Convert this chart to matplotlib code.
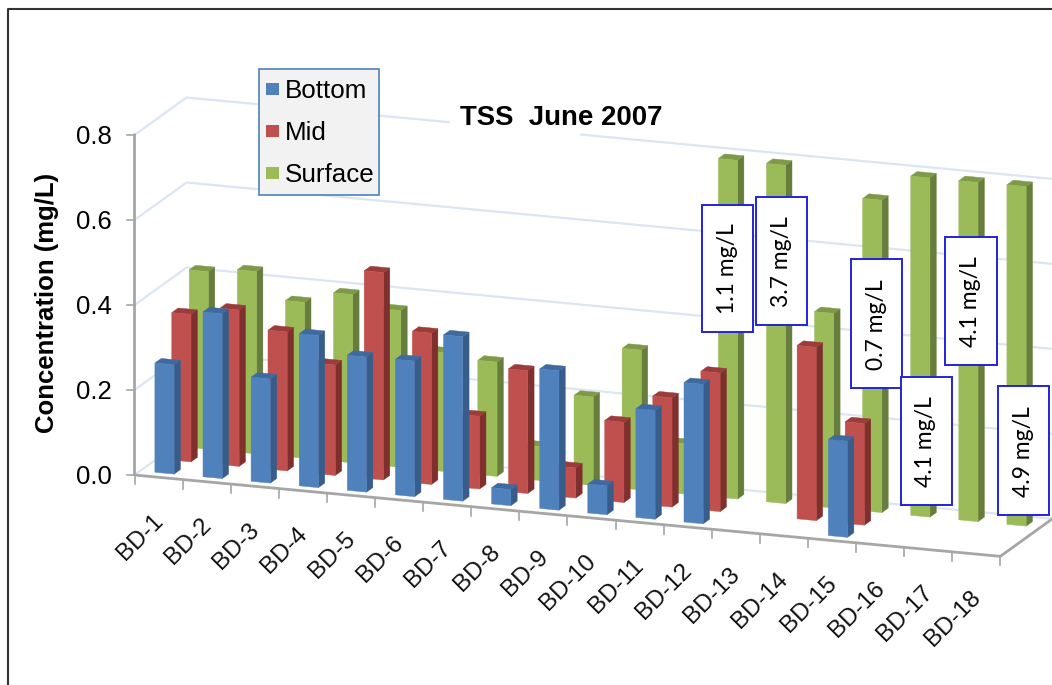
import matplotlib
matplotlib.use('Agg')
import matplotlib.pyplot as plt
from matplotlib.patches import Polygon, Rectangle

# Define the values (0.8 is where the tall bars hit the top of the axis)
categories = ['BD-%d' % i for i in range(1, 19)]
bottom = [0.257, 0.388, 0.245, 0.358, 0.318, 0.319, 0.387, 0.038, 0.328, 0.068, 0.256, 0.328,
          0, 0, 0.226, 0, 0, 0]
mid = [0.347, 0.368, 0.327, 0.26, 0.488, 0.356, 0.171, 0.289, 0.071, 0.189, 0.257, 0.326,
       0, 0.408, 0.239, 0, 0, 0]
surface = [0.418, 0.429, 0.367, 0.396, 0.369, 0.28, 0.269, 0.08, 0.208, 0.329, 0.118, 0.797,
           0.796, 0.458, 0.735, 0.798, 0.798, 0.799]
y_ticks = [0.0, 0.2, 0.4, 0.6, 0.8]
note_labels = ['1.1 mg/L', '3.7 mg/L', '0.7 mg/L', '4.1 mg/L', '4.1 mg/L', '4.9 mg/L']
note_boxes = [(701.5, 204.5, 51, 127), (756, 196.5, 51, 128), (851, 259, 51, 129),
              (900.5, 376.5, 51, 128.5), (944.5, 236.5, 52, 128.5), (998, 386, 51, 128.5)]

# Oblique projection of the Excel style 3D box, in pixels
origin_x, origin_y = 134.5, 475.0
cat_dx, cat_dy = 48.1, 4.52
depth_dx, depth_dy = 52.0, -37.5
value_scale = 425.0


def project(cat, depth, value):
    x = origin_x + cat * cat_dx + depth * depth_dx
    y = origin_y + cat * cat_dy + depth * depth_dy - value * value_scale
    return (x, y)


def draw_bar(ax, cat, depth, value, colors):
    # bar size inside one category / depth slot
    c0, c1 = cat + 0.305, cat + 0.705
    d0, d1 = depth, depth + 0.122
    front = [project(c0, d0, 0), project(c1, d0, 0), project(c1, d0, value), project(c0, d0, value)]
    side = [project(c1, d0, 0), project(c1, d1, 0), project(c1, d1, value), project(c1, d0, value)]
    top = [project(c0, d0, value), project(c1, d0, value), project(c1, d1, value), project(c0, d1, value)]
    for pts, col in zip([side, top, front], colors):
        ax.add_patch(Polygon(pts, closed=True, facecolor=col, edgecolor=col, linewidth=0.3, zorder=3))


# Create the figure and axes
fig = plt.figure(figsize=(10.52, 6.85), dpi=100)
ax = fig.add_axes([0, 0, 1, 1])
ax.set_xlim(0, 1052)
ax.set_ylim(685, 0)
ax.axis('off')
plt.rcParams['font.family'] = ['Liberation Sans', 'DejaVu Sans']

# Picture frame
ax.plot([7.5, 7.5, 1052], [685, 9, 9], color='#333333', linewidth=1.5, zorder=1)

# Gridlines on the side wall and back wall
grid_col = '#DCE6F2'
n = len(categories)
for v in y_ticks:
    pts = [project(0, 0, v), project(0, 1, v), project(n, 1, v)]
    ax.plot([p[0] for p in pts], [p[1] for p in pts], color=grid_col, linewidth=1.6, zorder=1)

# The title sits in a white gap of the top gridline
ax.add_patch(Rectangle((450, 100), 130, 37, facecolor='white', edgecolor='none', zorder=1.5))

# Axis lines and ticks
axis_col = '#A6A6A6'
pts = [project(0, 0, 0.8), project(0, 0, 0), project(n, 0, 0), project(n, 1, 0)]
ax.plot([p[0] for p in pts], [p[1] for p in pts], color=axis_col, linewidth=2.0, zorder=2)
for v in y_ticks:
    x, y = project(0, 0, v)
    ax.plot([x - 8, x], [y, y], color=axis_col, linewidth=1.2, zorder=2)
    ax.text(112, y + 1.5, '%.1f' % v, ha='right', va='center', fontsize=18.5, color='black')
for i in range(n + 1):
    x, y = project(i, 0, 0)
    ax.plot([x, x], [y, y + 9], color=axis_col, linewidth=1.2, zorder=2)

# Category labels, rotated like the original
for i, name in enumerate(categories):
    x, y = project(i + 0.5, 0, 0)
    ax.text(x + 1, y + 40, name, rotation=45, rotation_mode='anchor', ha='right', va='center',
            fontsize=17.5, color='#111111')

# Bars, back row first
series = [surface, mid, bottom]
depths = [0.77, 0.435, 0.11]
colors = [['#677D3B', '#7E9A47', '#9BBB59'],
          ['#7F2F2D', '#9B3C3A', '#C0504D'],
          ['#385D8A', '#3F6AA0', '#4F81BD']]
for vals, d, cols in zip(series, depths, colors):
    for i, v in enumerate(vals):
        if v > 0:
            draw_bar(ax, i, d, v, cols)

# Title and y label
ax.text(460, 118, 'TSS  June 2007', ha='left', va='center', fontsize=19.9, fontweight='bold',
        color='black', zorder=4)
ax.text(47, 303, 'Concentration (mg/L)', rotation=90, ha='center', va='center', fontsize=18.5,
        fontweight='bold', color='black')

# Legend box
ax.add_patch(Rectangle((258.5, 68.5), 120, 126.5, facecolor='#F2F2F2', edgecolor='#4F81BD',
                       linewidth=1.2, zorder=5))
legend_names = ['Bottom', 'Mid', 'Surface']
legend_y = [89, 131, 173]
legend_cols = ['#4F81BD', '#C0504D', '#9BBB59']
for name, y, col in zip(legend_names, legend_y, legend_cols):
    ax.add_patch(Rectangle((265.5, y - 6), 13.5, 12, facecolor=col, edgecolor='none', zorder=6))
    ax.text(285, y + 1.5, name, ha='left', va='center', fontsize=18.7, color='black', zorder=6)

# Concentration notes on top of the bars
for label, (x, y, w, h) in zip(note_labels, note_boxes):
    ax.add_patch(Rectangle((x, y), w, h, facecolor='white', edgecolor='#2222DD', linewidth=1.4, zorder=7))
    ax.text(x + w / 2, y + h / 2 + 1, label, rotation=90, ha='center', va='center', fontsize=16.5,
            family=['Lato', 'DejaVu Sans'], color='black', zorder=8)

fig.savefig('out.png', dpi=100)
